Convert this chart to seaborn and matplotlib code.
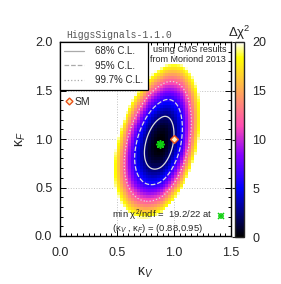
import numpy as np
import seaborn as sns
from matplotlib import pyplot as plt
from matplotlib.lines import Line2D
from matplotlib.ticker import MultipleLocator

# best fit point and shape of the chi2 surface
best_kv, best_kf = 0.88, 0.95
chi2_min, ndf = 19.2, 22
sig_kv_left, sig_kv_right = 0.092, 0.079
sig_kf_down, sig_kf_up = 0.172, 0.187
rho = 0.35
dchi2_max = 20

sm_kv, sm_kf = 1.0, 1.0

cl_levels = [2.30, 5.99, 11.83]
cl_labels = ["68% C.L.", "95% C.L.", "99.7% C.L."]
cl_styles = ["-", "--", ":"]

cbar_ticks = [0, 5, 10, 15, 20]


def delta_chi2(kv, kf):
	u = (kv - best_kv) / np.where(kv < best_kv, sig_kv_left, sig_kv_right)
	v = (kf - best_kf) / np.where(kf < best_kf, sig_kf_down, sig_kf_up)
	return (u**2 - 2 * rho * u * v + v**2) / (1 - rho**2)


sns.set_theme(style="ticks")
plt.rcParams["font.family"] = ["Liberation Sans", "DejaVu Sans"]
plt.rcParams["mathtext.fontset"] = "custom"
plt.rcParams["mathtext.rm"] = "Liberation Sans"
plt.rcParams["mathtext.it"] = "Liberation Sans:italic"

fig = plt.figure(figsize=(2.81, 2.84), dpi=100)
ax = fig.add_axes([60 / 281, 1 - 236 / 284, 171 / 281, 194 / 284])
cax = fig.add_axes([235 / 281, 1 - 237 / 284, 9 / 281, 195 / 284])

# coarse grid for the coloured map (gnuplot pm3d look)
kv_edges = np.arange(0, 1.5001, 0.025)
kf_edges = np.arange(0, 2.0101, 0.03)
kv_c = 0.5 * (kv_edges[1:] + kv_edges[:-1])
kf_c = 0.5 * (kf_edges[1:] + kf_edges[:-1])
KV, KF = np.meshgrid(kv_c, kf_c)
dchi = delta_chi2(KV, KF)
dchi = np.ma.masked_where(dchi > dchi2_max, dchi)

mesh = ax.pcolormesh(kv_edges, kf_edges, dchi, cmap="gnuplot2",
	vmin=0, vmax=dchi2_max, shading="flat", zorder=1)

# fine grid for the contour lines
kv_f = np.linspace(0, 1.5, 400)
kf_f = np.linspace(0, 2.0, 400)
KVf, KFf = np.meshgrid(kv_f, kf_f)
ax.contour(KVf, KFf, delta_chi2(KVf, KFf), levels=cl_levels,
	colors="#dddddd", linestyles=cl_styles, linewidths=0.9, zorder=3)

# best fit and SM point
sns.scatterplot(x=[best_kv], y=[best_kf], marker=(8, 2, 0), s=28,
	color="#10d010", edgecolor="#10d010", linewidth=1.2, ax=ax, zorder=5)
sns.scatterplot(x=[sm_kv], y=[sm_kf], marker="D", s=16,
	color="#fff2c8", edgecolor="#e8501a", linewidth=1.0, ax=ax, zorder=5)

ax.set_xlim(0, 1.5)
ax.set_ylim(0, 2.0)
ax.set_xticks([0, 0.5, 1.0, 1.5])
ax.set_yticks([0, 0.5, 1.0, 1.5, 2.0])
ax.set_xticklabels(["0.0", "0.5", "1.0", "1.5"])
ax.set_yticklabels(["0.0", "0.5", "1.0", "1.5", "2.0"])
ax.xaxis.set_minor_locator(MultipleLocator(0.05))
ax.yaxis.set_minor_locator(MultipleLocator(0.1))
ax.tick_params(which="both", direction="in", top=True, right=True,
	color="black", width=0.7, labelsize=9)
ax.tick_params(which="major", length=4)
ax.tick_params(which="minor", length=2.2)
ax.tick_params(axis="x", pad=8)
ax.tick_params(axis="y", pad=5.5)
for s in ax.spines.values():
	s.set_linewidth(1.0)
	s.set_color("black")
ax.grid(True, which="major", color="#c0c0c0", linestyle=":", linewidth=0.7)
ax.set_axisbelow(True)

ax.set_xlabel("κ$_V$", fontsize=10, labelpad=5)
ax.set_ylabel("κ$_F$", fontsize=10, labelpad=5)

ax.text(0.035, 1.012, "HiggsSignals-1.1.0", transform=ax.transAxes,
	family="Liberation Mono", fontsize=7, color="#555555", va="bottom", ha="left")
ax.text(0.972, 0.985, "using CMS results\nfrom Moriond 2013", transform=ax.transAxes,
	fontsize=6.5, ha="right", va="top", linespacing=1.1)

ax.text(0.305, 0.109, f"min χ$^2$/ndf =  {chi2_min}/{ndf} at", transform=ax.transAxes,
	fontsize=6.8, ha="left", va="center")
ax.text(0.305, 0.040, f"(κ$_V$ , κ$_F$) = ({best_kv:.2f},{best_kf:.2f})", transform=ax.transAxes,
	fontsize=6.8, ha="left", va="center")
for mk in ["x", "+"]:
	ax.plot([0.94], [0.103], marker=mk, ms=5, mew=1.1, color="#10d010",
		transform=ax.transAxes, clip_on=False, zorder=6)

# legends
cl_handles = [Line2D([], [], color="#aaaaaa", ls=st, lw=0.9) for st in cl_styles]
leg = ax.legend(cl_handles, cl_labels, loc="upper left", bbox_to_anchor=(0, 1),
	borderaxespad=0, frameon=True, fancybox=False, edgecolor="black",
	framealpha=1, fontsize=7, handlelength=2.0, handletextpad=1.2,
	labelspacing=0.45, borderpad=0.45)
leg.get_frame().set_linewidth(0.9)
ax.add_artist(leg)
sm_handle = Line2D([], [], marker="D", ls="none", mfc="#fff2c8", mec="#e8501a", ms=3.5, mew=1.0)
ax.legend([sm_handle], ["SM"], loc="upper left", bbox_to_anchor=(-0.01, 0.745),
	frameon=False, fontsize=7.5, handletextpad=0.05, borderpad=0, handlelength=1.0)

cb = fig.colorbar(mesh, cax=cax)
cb.set_ticks(cbar_ticks)
cb.outline.set_linewidth(1.0)
cax.tick_params(direction="in", length=9, width=0.8, color="#222222", labelsize=9, pad=6)
cax.set_title("Δχ$^2$", fontsize=9.5, pad=2)

fig.savefig("out.png", dpi=100)
